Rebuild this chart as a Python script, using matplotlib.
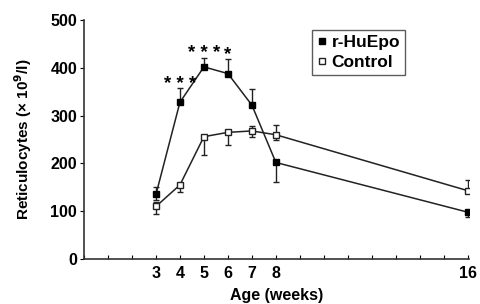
import matplotlib.pyplot as plt
from matplotlib.lines import Line2D

plt.rcParams['font.family'] = ['Liberation Sans', 'DejaVu Sans']

weeks = [3, 4, 5, 6, 7, 8, 16]
epo = [135, 328, 402, 388, 322, 202, 98]
epo_lo = [12, 0, 0, 0, 0, 40, 10]
epo_hi = [15, 30, 18, 30, 33, 0, 0]
ctrl = [110, 155, 256, 265, 268, 260, 143]
ctrl_lo = [15, 15, 38, 27, 12, 12, 0]
ctrl_hi = [10, 0, 0, 0, 10, 20, 22]

stars = [(4, 366, '* * *'), (5, 430, '* * *'), (6, 428, '*')]

fig = plt.figure(figsize=(4.8, 3.04), dpi=100)
ax = fig.add_axes([0.175, 0.148, 0.802, 0.786])

ax.errorbar(weeks, epo, yerr=[epo_lo, epo_hi], color='#222222', lw=1.1,
            marker='s', ms=4, mfc='black', mec='black', capsize=2,
            elinewidth=1)
ax.errorbar(weeks, ctrl, yerr=[ctrl_lo, ctrl_hi], color='#222222', lw=1.1,
            marker='s', ms=4, mfc='white', mec='#222222', capsize=2,
            elinewidth=1)

for x, y, s in stars:
    ax.text(x, y, s, ha='center', va='center', fontsize=13.5, fontweight='bold')

ax.set_xlim(0, 16.05)
ax.set_ylim(0, 500)
ax.set_xticks(range(0, 17))
ax.set_xticklabels([str(w) if w in weeks else '' for w in range(0, 17)])
ax.set_yticks([0, 100, 200, 300, 400, 500])
ax.spines['top'].set_visible(False)
ax.spines['right'].set_visible(False)
for sp in ['left', 'bottom']:
    ax.spines[sp].set_linewidth(1.2)
    ax.spines[sp].set_color('#333333')
ax.tick_params(axis='x', direction='in', length=3, labelsize=11.5, pad=5)
ax.tick_params(axis='y', direction='out', length=3, labelsize=11.5, pad=2)
for lbl in ax.get_xticklabels() + ax.get_yticklabels():
    lbl.set_fontweight('bold')

ax.set_xlabel('Age (weeks)', fontsize=11.5, fontweight='bold', labelpad=5)
ax.set_ylabel('Reticulocytes (× 10$^{\\mathbf{9}}$/l)', fontsize=11,
              fontweight='bold', labelpad=12)

handles = [
    Line2D([], [], ls='none', marker='s', ms=5, mfc='black', mec='black'),
    Line2D([], [], ls='none', marker='s', ms=5, mfc='white', mec='#222222'),
]
leg = ax.legend(handles, ['r-HuEpo', 'Control'], loc='upper left',
                bbox_to_anchor=(0.593, 0.958), frameon=True, fancybox=False,
                edgecolor='#333333', handlelength=0.5, handletextpad=0.3,
                borderpad=0.3, borderaxespad=0, labelspacing=0.25,
                prop={'weight': 'bold', 'size': 12.5})
leg.get_frame().set_linewidth(1.0)

fig.savefig('out.png', dpi=100)
